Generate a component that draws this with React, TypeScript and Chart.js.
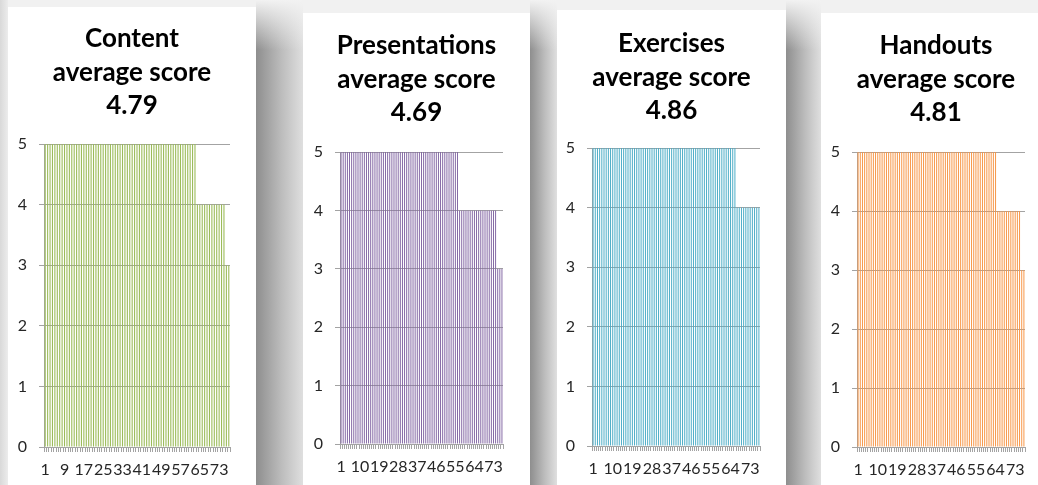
import { useEffect, useRef } from 'react';
import { Chart, registerables } from 'chart.js';

Chart.register(...registerables);

// Ratings given by each of the 77 respondents, sorted from highest to lowest.
const contentScores = [
  5, 5, 5, 5, 5, 5, 5, 5, 5, 5,
  5, 5, 5, 5, 5, 5, 5, 5, 5, 5,
  5, 5, 5, 5, 5, 5, 5, 5, 5, 5,
  5, 5, 5, 5, 5, 5, 5, 5, 5, 5,
  5, 5, 5, 5, 5, 5, 5, 5, 5, 5,
  5, 5, 5, 5, 5, 5, 5, 5, 5, 5,
  5, 5, 5, 4, 4, 4, 4, 4, 4, 4,
  4, 4, 4, 4, 4, 3, 3,
];

const presentationScores = [
  5, 5, 5, 5, 5, 5, 5, 5, 5, 5,
  5, 5, 5, 5, 5, 5, 5, 5, 5, 5,
  5, 5, 5, 5, 5, 5, 5, 5, 5, 5,
  5, 5, 5, 5, 5, 5, 5, 5, 5, 5,
  5, 5, 5, 5, 5, 5, 5, 5, 5, 5,
  5, 5, 5, 5, 5, 5, 4, 4, 4, 4,
  4, 4, 4, 4, 4, 4, 4, 4, 4, 4,
  4, 4, 4, 4, 3, 3, 3,
];

const exerciseScores = [
  5, 5, 5, 5, 5, 5, 5, 5, 5, 5,
  5, 5, 5, 5, 5, 5, 5, 5, 5, 5,
  5, 5, 5, 5, 5, 5, 5, 5, 5, 5,
  5, 5, 5, 5, 5, 5, 5, 5, 5, 5,
  5, 5, 5, 5, 5, 5, 5, 5, 5, 5,
  5, 5, 5, 5, 5, 5, 5, 5, 5, 5,
  5, 5, 5, 5, 5, 5, 4, 4, 4, 4,
  4, 4, 4, 4, 4, 4, 4,
];

const handoutScores = [
  5, 5, 5, 5, 5, 5, 5, 5, 5, 5,
  5, 5, 5, 5, 5, 5, 5, 5, 5, 5,
  5, 5, 5, 5, 5, 5, 5, 5, 5, 5,
  5, 5, 5, 5, 5, 5, 5, 5, 5, 5,
  5, 5, 5, 5, 5, 5, 5, 5, 5, 5,
  5, 5, 5, 5, 5, 5, 5, 5, 5, 5,
  5, 5, 5, 5, 4, 4, 4, 4, 4, 4,
  4, 4, 4, 4, 4, 3, 3,
];

// Respondent numbers that carry a visible label on the x axis.
const contentTickLabels = ['1', '9', '17', '25', '33', '41', '49', '57', '65', '73'];
const ratingTickLabels = ['1', '10', '19', '28', '37', '46', '55', '64', '73'];

const scoreMin = 0;
const scoreMax = 5;

const VIEW_H = 485;
const TITLE_FONT = 'Lato, "Open Sans", sans-serif';
const TITLE_SIZE = 26;
const TITLE_LINE = 1.29;
const TICK_FONT = 'Lato, "Open Sans", sans-serif';
const TICK_SIZE = 16;
const GRID_COLOR = '#a3a3a3';
const TEXT_COLOR = '#262626';
const X_AXIS_H = 30;

type Frame = {
  left: number;
  top: number;
  width: number;
  titleMid: number;
  plotLeft: number;
  plotRight: number;
  plotTop: number;
  plotBottom: number;
};

type PanelProps = {
  topic: string;
  scores: number[];
  color: string;
  tickLabels: string[];
  frame: Frame;
};

function ScorePanel({ topic, scores, color, tickLabels, frame }: PanelProps) {
  const canvasRef = useRef<HTMLCanvasElement>(null);
  const height = VIEW_H - frame.top;

  useEffect(() => {
    let chart: Chart | null = null;
    let cancelled = false;

    const build = () => {
      if (cancelled || !canvasRef.current) return;
      const average = scores.reduce((sum, v) => sum + v, 0) / scores.length;
      const respondents = scores.map((_, i) => String(i + 1));
      const lineH = TITLE_SIZE * TITLE_LINE;
      const titlePadTop = frame.titleMid - frame.top - lineH / 2;
      const titlePadBottom = frame.plotTop - frame.top - titlePadTop - 3 * lineH;
      const bottomPad = height - (frame.plotBottom - frame.top) - X_AXIS_H;
      const leftAxisW = frame.plotLeft - frame.left;
      const rightSpace = frame.left + frame.width - frame.plotRight;

      chart = new Chart(canvasRef.current, {
        type: 'bar',
        data: {
          labels: respondents,
          datasets: [
            {
              data: scores,
              backgroundColor: color,
              borderWidth: 0,
              barPercentage: 0.45,
              categoryPercentage: 1,
            },
          ],
        },
        options: {
          animation: false,
          responsive: false,
          devicePixelRatio: 1,
          layout: { padding: { top: 0, left: 0, right: 0, bottom: bottomPad } },
          plugins: {
            legend: { display: false },
            tooltip: { enabled: false },
            title: {
              display: true,
              text: [topic, 'average score', average.toFixed(2)],
              color: '#000000',
              font: { family: TITLE_FONT, size: TITLE_SIZE, weight: 'bold', lineHeight: TITLE_LINE },
              padding: { top: titlePadTop, bottom: titlePadBottom },
            },
          },
          scales: {
            x: {
              offset: true,
              grid: {
                display: true,
                drawOnChartArea: false,
                drawTicks: true,
                tickLength: 5,
                color: GRID_COLOR,
                offset: true,
              },
              border: { display: true, color: GRID_COLOR },
              ticks: {
                autoSkip: false,
                maxRotation: 0,
                minRotation: 0,
                padding: 8,
                color: TEXT_COLOR,
                font: { family: TICK_FONT, size: TICK_SIZE },
                callback(value) {
                  const label = (this as any).getLabelForValue(value as number);
                  return tickLabels.includes(label) ? label : '';
                },
              },
              afterFit: (scale: any) => {
                scale.height = X_AXIS_H;
              },
            },
            y: {
              min: scoreMin,
              max: scoreMax,
              ticks: {
                stepSize: 1,
                padding: 12,
                color: TEXT_COLOR,
                font: { family: TICK_FONT, size: TICK_SIZE },
              },
              grid: { color: GRID_COLOR, tickLength: 5, drawTicks: true },
              border: { display: true, color: GRID_COLOR },
              afterFit: (scale: any) => {
                scale.width = leftAxisW;
              },
            },
            yRight: {
              position: 'right',
              display: true,
              grid: { display: false, drawTicks: false },
              border: { display: false },
              ticks: { display: false },
              afterFit: (scale: any) => {
                scale.width = rightSpace;
              },
            },
          },
        },
      });
    };

    const fonts = (document as any).fonts;
    if (fonts && fonts.load) {
      Promise.all([
        fonts.load(`bold ${TITLE_SIZE}px Lato`),
        fonts.load(`${TICK_SIZE}px Lato`),
      ]).then(build, build);
    } else {
      build();
    }

    return () => {
      cancelled = true;
      if (chart) chart.destroy();
    };
  }, []);

  return (
    <div
      style={{
        position: 'absolute',
        left: frame.left,
        top: frame.top,
        width: frame.width,
        height,
        background: '#ffffff',
      }}
    >
      <canvas
        ref={canvasRef}
        width={frame.width}
        height={height}
        style={{ display: 'block', width: frame.width, height }}
      />
    </div>
  );
}

const gaps = [
  { left: 256, width: 47 },
  { left: 530, width: 27 },
  { left: 786, width: 35 },
];

const panels: PanelProps[] = [
  {
    topic: 'Content',
    scores: contentScores,
    color: '#9bbb59',
    tickLabels: contentTickLabels,
    frame: { left: 8, top: 7, width: 248, titleMid: 39, plotLeft: 44, plotRight: 230, plotTop: 144, plotBottom: 447 },
  },
  {
    topic: 'Presentations',
    scores: presentationScores,
    color: '#8064a2',
    tickLabels: ratingTickLabels,
    frame: { left: 303, top: 13, width: 227, titleMid: 46, plotLeft: 340, plotRight: 503, plotTop: 152, plotBottom: 444 },
  },
  {
    topic: 'Exercises',
    scores: exerciseScores,
    color: '#4bacc6',
    tickLabels: ratingTickLabels,
    frame: { left: 557, top: 10, width: 229, titleMid: 44, plotLeft: 592, plotRight: 760, plotTop: 148, plotBottom: 446 },
  },
  {
    topic: 'Handouts',
    scores: handoutScores,
    color: '#f79646',
    tickLabels: ratingTickLabels,
    frame: { left: 821, top: 13, width: 230, titleMid: 46, plotLeft: 857, plotRight: 1025, plotTop: 152, plotBottom: 447 },
  },
];

export default function App() {
  return (
    <div
      style={{
        position: 'fixed',
        left: 0,
        top: 0,
        width: 1038,
        height: VIEW_H,
        overflow: 'hidden',
        background: '#f1f1f1',
      }}
    >
      <div
        style={{
          position: 'absolute',
          left: 0,
          top: 0,
          width: 8,
          height: VIEW_H,
          background: 'linear-gradient(to right, #d9d9d9, #ececec)',
        }}
      />
      {gaps.map((g) => (
        <div
          key={g.left}
          style={{
            position: 'absolute',
            left: g.left,
            top: 0,
            width: g.width,
            height: VIEW_H,
            background:
              'linear-gradient(to bottom, #f2f2f2 0px, rgba(242,242,242,0) 50px), linear-gradient(to right, #8e8e8e, #bdbdbd 55%, #dfdfdf)',
          }}
        />
      ))}
      {panels.map((p) => (
        <ScorePanel key={p.topic} {...p} />
      ))}
    </div>
  );
}
